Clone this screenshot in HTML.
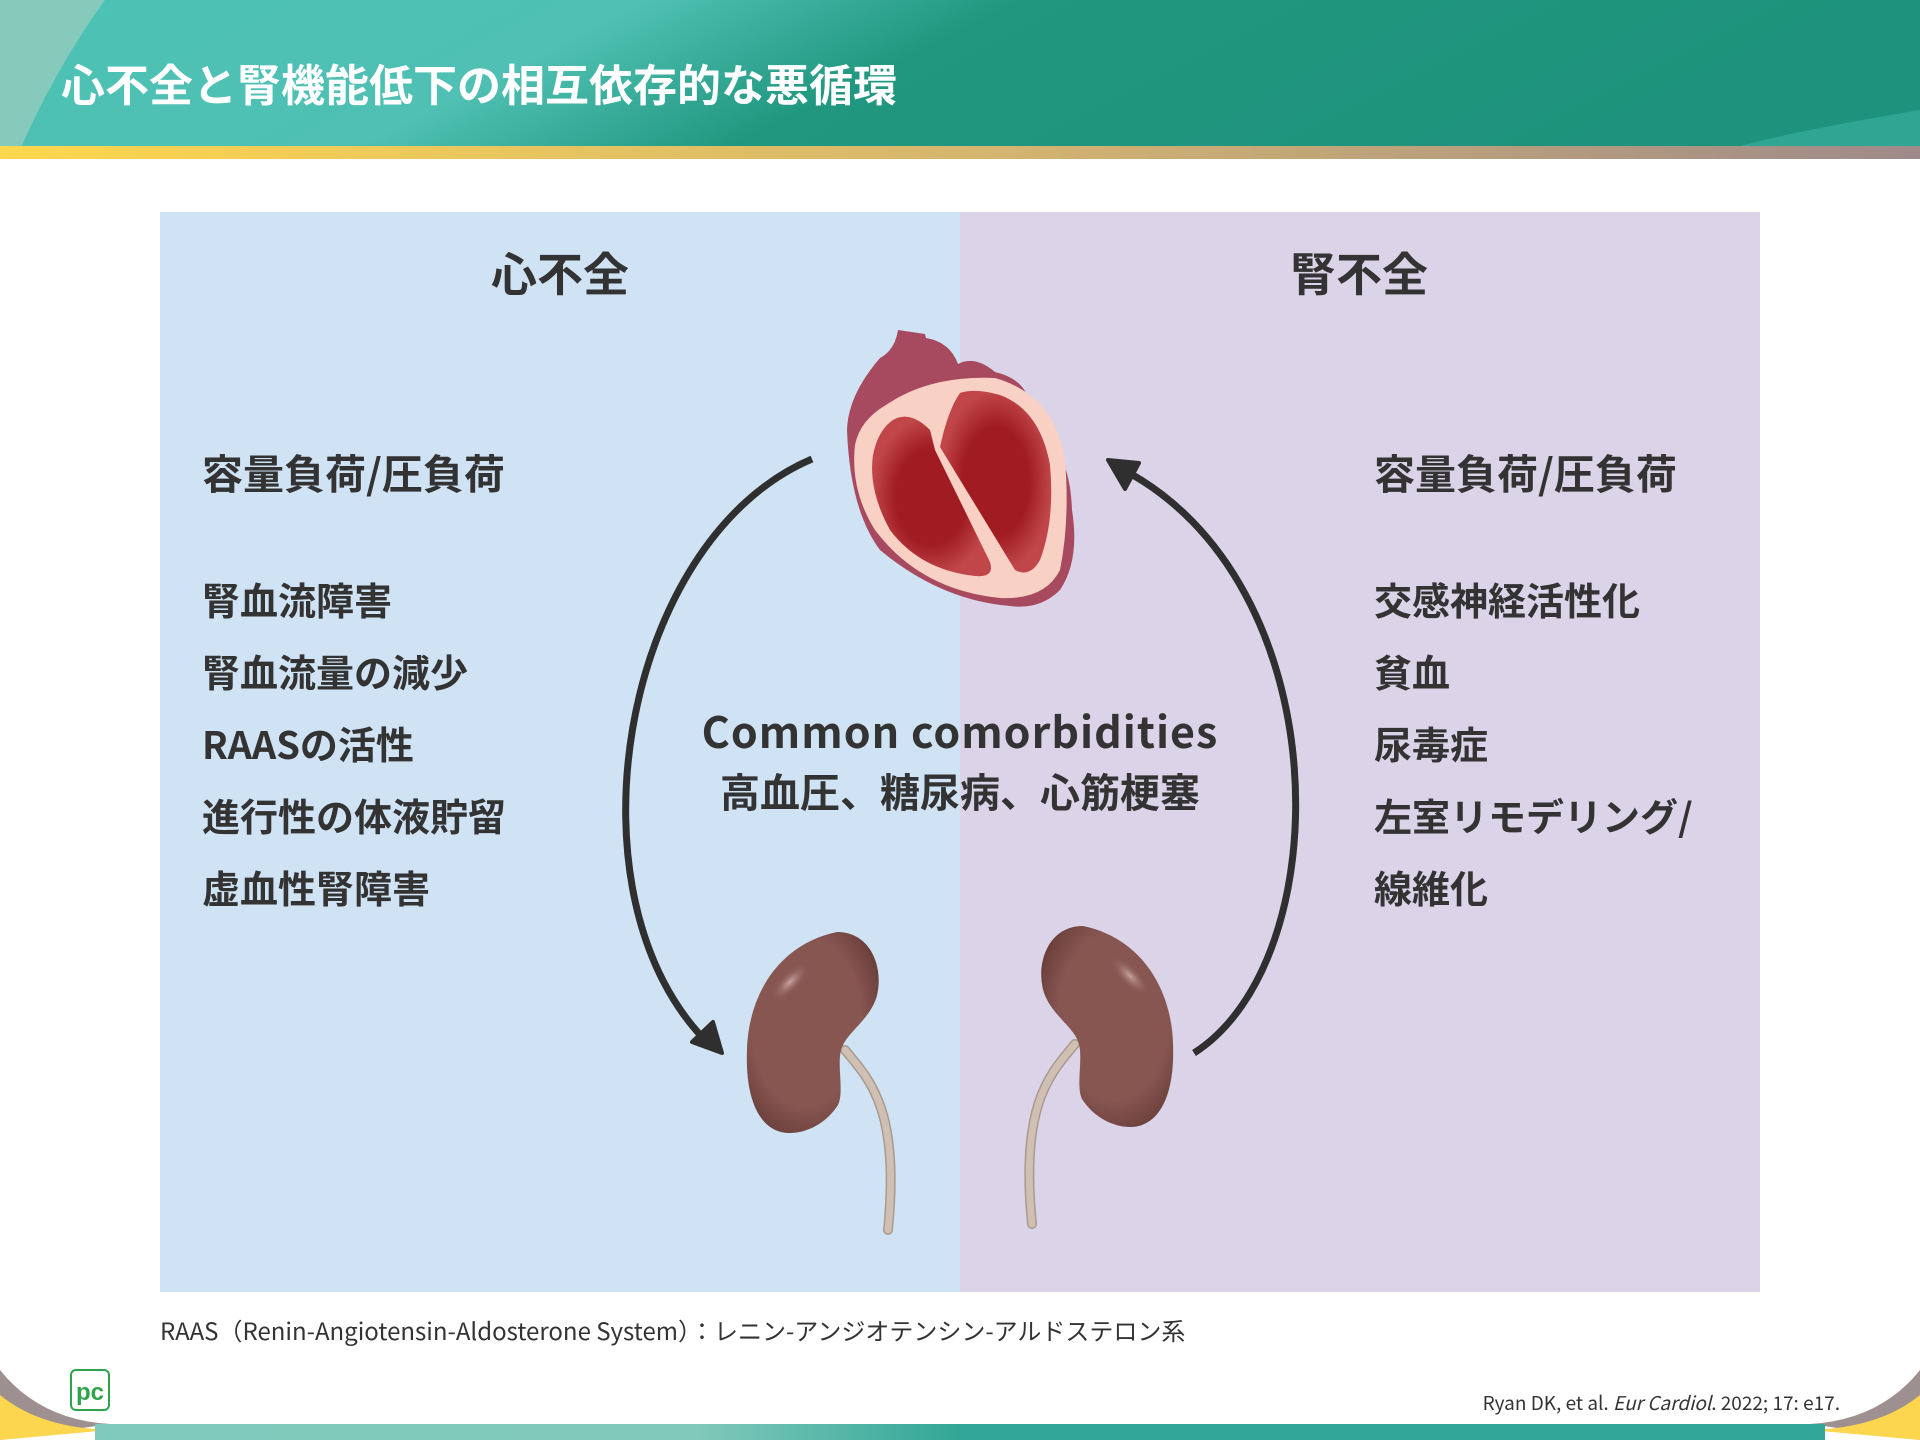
<!DOCTYPE html>
<html><head><meta charset="utf-8">
<style>
html,body{margin:0;padding:0;}
body{width:1920px;height:1440px;position:relative;overflow:hidden;background:#fff;font-family:"Noto Sans CJK JP","Liberation Sans",sans-serif;}
.t{position:absolute;white-space:nowrap;color:#333;font-weight:bold;}
</style></head><body>
<svg width="1920" height="1440" style="position:absolute;left:0;top:0">
<defs>
<linearGradient id="hd" x1="0" y1="0" x2="1" y2="0.15">
<stop offset="0" stop-color="#4cc2b5"/><stop offset="0.33" stop-color="#4fc0b3"/><stop offset="0.52" stop-color="#21977f"/><stop offset="1" stop-color="#1e927c"/>
</linearGradient>
<linearGradient id="gold" x1="0" x2="1"><stop offset="0" stop-color="#fdd74d"/><stop offset="0.5" stop-color="#d6b66e"/><stop offset="1" stop-color="#9e8a8a"/></linearGradient>
<linearGradient id="bt" x1="0" x2="1"><stop offset="0" stop-color="#7fcabc"/><stop offset="0.35" stop-color="#7fc8ba"/><stop offset="0.5" stop-color="#32a797"/><stop offset="1" stop-color="#32a797"/></linearGradient>
<radialGradient id="ch" cx="0.5" cy="0.5" r="0.5"><stop offset="0.6" stop-color="#a01c22"/><stop offset="1" stop-color="#c0464a"/></radialGradient>
<radialGradient id="kd" cx="0.45" cy="0.45" r="0.6"><stop offset="0.7" stop-color="#875651"/><stop offset="1" stop-color="#6b403c"/></radialGradient>
<radialGradient id="hl" cx="0.5" cy="0.5" r="0.5"><stop offset="0" stop-color="#c9a3a1"/><stop offset="1" stop-color="#875651" stop-opacity="0"/></radialGradient>
<clipPath id="hc"><rect x="0" y="0" width="1920" height="146"/></clipPath>
</defs>
<rect x="0" y="0" width="1920" height="146" fill="url(#hd)"/>
<path d="M0,0 L105,0 Q40,90 0,200 Z" fill="#86cabc" clip-path="url(#hc)"/>
<path d="M1920,110 Q1800,130 1740,146 L1920,146 Z" fill="#2fa593"/>
<rect x="0" y="146" width="1920" height="13" fill="url(#gold)"/>
<rect x="160" y="212" width="800" height="1080" fill="#cfe3f4"/>
<rect x="960" y="212" width="800" height="1080" fill="#dbd3e8"/>
<!-- bottom -->
<path d="M0,1370 Q40,1420 110,1424 L0,1440 Z" fill="#9e9090"/>
<path d="M0,1395 Q40,1428 110,1430 L0,1440 Z" fill="#fbd64e"/>
<path d="M1920,1370 Q1880,1420 1810,1424 L1920,1440 Z" fill="#9e9090"/>
<path d="M1920,1395 Q1880,1428 1810,1430 L1920,1440 Z" fill="#fbd64e"/>
<rect x="95" y="1424" width="1730" height="16" fill="url(#bt)"/>
<!-- arrows -->
<path d="M812,459 C620,540 560,900 710,1045" fill="none" stroke="#2f2f2f" stroke-width="7"/>
<path d="M722,1053 L692,1042 L713,1022 Z" fill="#2f2f2f" stroke="#2f2f2f" stroke-width="4" stroke-linejoin="round"/>
<path d="M1194,1053 C1340,960 1340,580 1120,468" fill="none" stroke="#2f2f2f" stroke-width="7"/>
<path d="M1108,460 L1139,463 L1125,489 Z" fill="#2f2f2f" stroke="#2f2f2f" stroke-width="4" stroke-linejoin="round"/>
<!-- heart -->
<path d="M898,330 L925,334 L926,338 Q950,342 958,364 Q975,355 995,372 Q1020,378 1027,395 L1050,445 Q1070,460 1072,510 Q1080,560 1060,590 Q1040,610 1010,606 Q940,600 880,550 Q850,510 847,430 Q848,395 880,358 Q895,350 898,330 Z" fill="#a84a5f"/>
<path d="M886,405 Q930,375 995,378 Q1055,395 1065,460 Q1070,520 1060,570 Q1045,600 1000,598 Q920,590 875,530 Q850,490 855,445 Q860,420 886,405 Z" fill="#f9d0c4"/>
<path d="M893,420 Q910,410 930,430 L935,450 L990,562 Q995,578 975,576 Q920,570 890,530 Q868,490 873,455 Q878,430 893,420 Z" fill="url(#ch)"/>
<path d="M960,393 Q975,388 1000,395 Q1040,410 1050,465 Q1055,520 1040,560 Q1030,578 1015,570 L940,447 Q948,410 960,393 Z" fill="url(#ch)"/>
<!-- kidneys -->
<g id="kl">
<path d="M845,1050 C870,1080 900,1110 888,1230" fill="none" stroke="#a89a8e" stroke-width="10" stroke-linecap="round"/>
<path d="M845,1050 C870,1080 900,1110 888,1230" fill="none" stroke="#cfc0b3" stroke-width="7" stroke-linecap="round"/>
<path d="M837,932 C870,932 882,965 878,990 C875,1015 850,1030 843,1045 C835,1060 845,1090 838,1105 C825,1125 805,1133 790,1133 C760,1133 745,1100 747,1050 C748,1000 775,945 837,932 Z" fill="url(#kd)"/>
<ellipse cx="790" cy="982" rx="26" ry="10" transform="rotate(-45 790 982)" fill="url(#hl)"/>
</g>
<use href="#kl" transform="translate(1920,-6) scale(-1,1)"/>
<!-- logo -->
<rect x="71" y="1370" width="38" height="40" rx="5" fill="#fff" stroke="#2ea44a" stroke-width="2"/>
<text x="90" y="1400" text-anchor="middle" font-family="Liberation Sans" font-weight="bold" font-size="24" fill="#2ea44a">pc</text>
</svg>
<div class="t" style="left:61px;top:52px;font-size:44px;line-height:60px;color:#fff;">心不全と腎機能低下の相互依存的な悪循環</div>
<div class="t" style="left:460px;top:242px;width:200px;text-align:center;font-size:46px;line-height:60px;">心不全</div>
<div class="t" style="left:1259px;top:242px;width:200px;text-align:center;font-size:46px;line-height:60px;">腎不全</div>
<div class="t" style="left:202px;top:443px;font-size:41px;line-height:56px;">容量負荷/圧負荷</div>
<div class="t" style="left:202px;top:563px;font-size:38px;line-height:72px;">腎血流障害<br>腎血流量の減少<br>RAASの活性<br>進行性の体液貯留<br>虚血性腎障害</div>
<div class="t" style="left:1374px;top:443px;font-size:41px;line-height:56px;">容量負荷/圧負荷</div>
<div class="t" style="left:1374px;top:563px;font-size:38px;line-height:72px;">交感神経活性化<br>貧血<br>尿毒症<br>左室リモデリング/<br>線維化</div>
<div class="t" style="left:610px;top:700px;width:700px;text-align:center;font-size:43px;line-height:60px;letter-spacing:1px;">Common comorbidities</div>
<div class="t" style="left:610px;top:760px;width:700px;text-align:center;font-size:40px;line-height:60px;">高血圧、糖尿病、心筋梗塞</div>
<div class="t" style="left:160px;top:1313px;font-size:24px;line-height:34px;font-weight:normal;">RAAS（Renin-Angiotensin-Aldosterone System）：レニン-アンジオテンシン-アルドステロン系</div>
<div class="t" style="right:80px;top:1389px;font-size:19px;line-height:28px;font-weight:normal;">Ryan DK, et al. <i>Eur Cardiol</i>. 2022; 17: e17.</div>
</body></html>
